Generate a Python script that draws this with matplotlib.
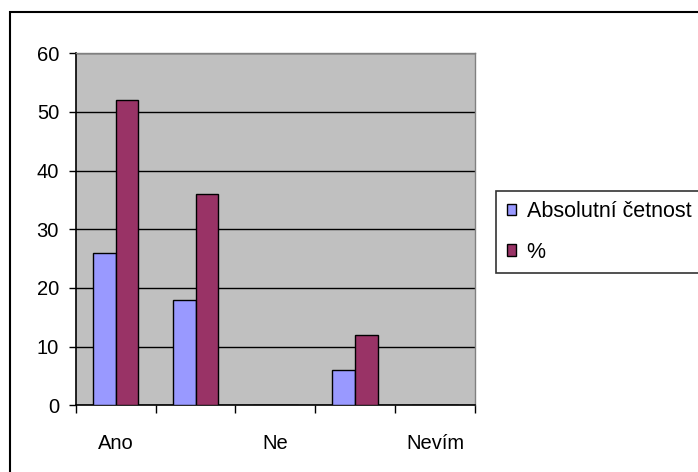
import numpy as np
import matplotlib.pyplot as plt
from matplotlib.patches import Rectangle

plt.rcParams['font.family'] = ['Liberation Sans', 'DejaVu Sans']

# odpovedi a hodnoty
tick_labels = ["Ano", "", "Ne", "", "Nevím"]
absolutni = [26, 18, 0, 6, 0]
procenta = [52, 36, 0, 12, 0]

fs = 14.5

fig = plt.figure(figsize=(6.98, 4.72), dpi=100)
ax = fig.add_axes([0.1085, 0.1413, 0.572, 0.7458])
ax.set_facecolor("#C0C0C0")

x = np.arange(len(tick_labels))
w = 1 / 3.5
ax.bar(x - w / 2, absolutni, w, color="#9999FF", edgecolor="black", linewidth=1,
       label="Absolutní četnost", zorder=3)
ax.bar(x + w / 2, procenta, w, color="#993366", edgecolor="black", linewidth=1,
       label="%", zorder=3)

ax.set_xlim(-0.5, len(tick_labels) - 0.5)
ax.set_ylim(0, 60)
ax.set_yticks(range(0, 61, 10))
ax.yaxis.grid(True, color="black", linewidth=1, zorder=1)

# hranice kategorii jako hlavni ticky, popisky na strede
ax.set_xticks(np.arange(-0.5, len(tick_labels), 1))
ax.set_xticklabels([])
ax.set_xticks(x, minor=True)
ax.set_xticklabels(tick_labels, minor=True)
ax.tick_params(axis="x", which="major", length=6, width=1, color="black")
ax.tick_params(axis="x", which="minor", length=0, pad=21, labelsize=fs)
ax.tick_params(axis="y", length=5, width=1, pad=7, labelsize=fs)

for s in ["left", "bottom"]:
    ax.spines[s].set_color("black")
    ax.spines[s].set_linewidth(1.2)
for s in ["top", "right"]:
    ax.spines[s].set_color("#808080")
    ax.spines[s].set_linewidth(1)

# legenda presahuje pravy okraj obrazku
leg = ax.legend(loc="upper left",
                bbox_to_anchor=(496 / 698, 1 - 191 / 472, 215 / 698, 0.001),
                bbox_transform=fig.transFigure, mode="expand", fontsize=15.5,
                frameon=True, fancybox=False, edgecolor="black",
                handlelength=0.42, handleheight=0.42, handletextpad=0.5,
                labelspacing=0.9, borderpad=0.5, borderaxespad=0)
leg.get_frame().set_linewidth(1.2)

# ramecek kolem celeho grafu
fig.add_artist(Rectangle((10 / 698, -10 / 472), 700 / 698, 470 / 472,
                         transform=fig.transFigure, fill=False,
                         edgecolor="black", linewidth=1.5))

fig.savefig("out.png", dpi=100)
